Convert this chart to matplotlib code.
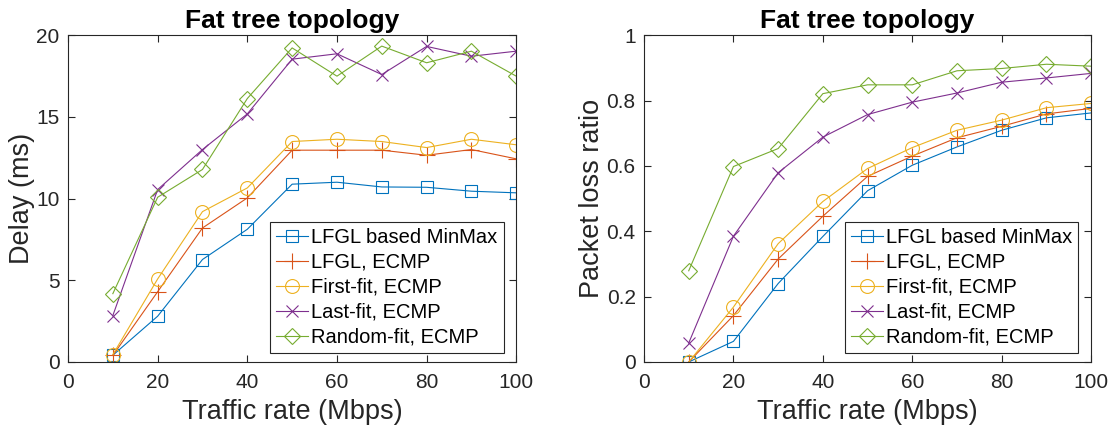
import matplotlib
matplotlib.use('Agg')
import matplotlib.pyplot as plt

plt.rcParams['font.family'] = ['Liberation Sans', 'DejaVu Sans']

# traffic rate (Mbps)
rate = [10, 20, 30, 40, 50, 60, 70, 80, 90, 100]

# delay (ms)
delay_minmax = [0.41, 2.8, 6.27, 8.12, 10.88, 11.0, 10.71, 10.69, 10.45, 10.35]
delay_lfgl = [0.4, 4.3, 8.2, 10.04, 12.96, 12.96, 12.96, 12.65, 13.0, 12.43]
delay_first = [0.45, 5.08, 9.2, 10.65, 13.49, 13.63, 13.49, 13.12, 13.63, 13.29]
delay_last = [2.84, 10.55, 13.0, 15.18, 18.53, 18.86, 17.59, 19.31, 18.71, 19.02]
delay_random = [4.18, 10.08, 11.78, 16.12, 19.22, 17.49, 19.33, 18.31, 19.02, 17.49]

# packet loss ratio
loss_minmax = [0.0, 0.063, 0.24, 0.384, 0.524, 0.602, 0.658, 0.709, 0.747, 0.762]
loss_lfgl = [0.0, 0.142, 0.315, 0.446, 0.568, 0.63, 0.686, 0.721, 0.759, 0.776]
loss_first = [0.0, 0.168, 0.362, 0.491, 0.592, 0.656, 0.709, 0.74, 0.778, 0.791]
loss_last = [0.058, 0.385, 0.579, 0.688, 0.757, 0.795, 0.823, 0.856, 0.869, 0.883]
loss_random = [0.279, 0.598, 0.653, 0.821, 0.848, 0.848, 0.891, 0.898, 0.911, 0.905]

labels = ['LFGL based MinMax', 'LFGL, ECMP', 'First-fit, ECMP',
          'Last-fit, ECMP', 'Random-fit, ECMP']
colors = ['#0072BD', '#D95319', '#EDB120', '#7E2F8E', '#77AC30']
markers = ['s', '+', 'o', 'x', 'D']
msizes = [8, 11, 10, 9, 8]

axis_gray = '#262626'


def draw_panel(ax, series, ylim, yticks, yticklabels, ylabel):
    for vals, lab, c, m, ms in zip(series, labels, colors, markers, msizes):
        ax.plot(rate, vals, color=c, marker=m, markersize=ms, linewidth=0.8,
                markerfacecolor='none', markeredgewidth=0.8, label=lab)
    ax.set_xlim(0, 100)
    ax.set_ylim(*ylim)
    ax.set_xticks([0, 20, 40, 60, 80, 100])
    ax.set_yticks(yticks)
    ax.set_yticklabels(yticklabels)
    ax.tick_params(direction='in', top=True, right=True, length=5,
                   width=0.8, labelsize=15, colors=axis_gray, pad=6)
    ax.tick_params(axis='x', pad=8)
    for sp in ax.spines.values():
        sp.set_color(axis_gray)
        sp.set_linewidth(0.8)
    ax.set_xlabel('Traffic rate (Mbps)', fontsize=19.5, color=axis_gray, labelpad=5)
    ax.set_ylabel(ylabel, fontsize=19.5, color=axis_gray, labelpad=1)
    ax.set_title('Fat tree topology', fontsize=19, fontweight='bold', pad=5)
    leg = ax.legend(loc='lower right', fontsize=14.5, fancybox=False,
                    edgecolor=axis_gray, framealpha=1, borderpad=0.3,
                    labelspacing=0.3, handlelength=1.6, handletextpad=0.15,
                    borderaxespad=0.45, bbox_to_anchor=(0.992, 0.0))
    leg.get_frame().set_linewidth(0.8)


fig = plt.figure(figsize=(11.15, 4.34), dpi=100)
ax1 = fig.add_axes([0.061, 0.166, 0.402, 0.753])
ax2 = fig.add_axes([0.5776, 0.166, 0.401, 0.753])

draw_panel(ax1, [delay_minmax, delay_lfgl, delay_first, delay_last, delay_random],
           (0, 20), [0, 5, 10, 15, 20], ['0', '5', '10', '15', '20'], 'Delay (ms)')
draw_panel(ax2, [loss_minmax, loss_lfgl, loss_first, loss_last, loss_random],
           (0, 1), [0, 0.2, 0.4, 0.6, 0.8, 1], ['0', '0.2', '0.4', '0.6', '0.8', '1'],
           'Packet loss ratio')

fig.savefig('out.png', dpi=100)
